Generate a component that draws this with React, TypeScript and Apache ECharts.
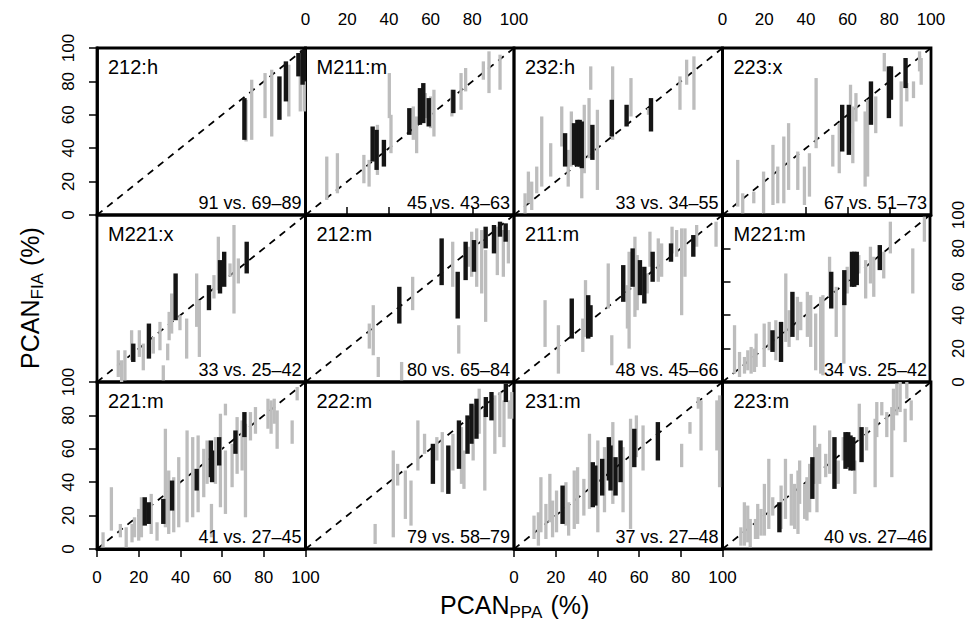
import React, { useEffect, useRef } from 'react';
import * as echarts from 'echarts';

const FONT = '"Liberation Sans", Arial, Helvetica, sans-serif';

// Panel identifiers and the comparison notes in the lower-right corners
const panelNames = ['212:h', 'M211:m', '232:h', '223:x', 'M221:x', '212:m', '211:m', 'M221:m', '221:m', '222:m', '231:m', '223:m'];
const panelNotes = ['91 vs. 69–89', '45 vs. 43–63', '33 vs. 34–55', '67 vs. 51–73', '33 vs. 25–42', '80 vs. 65–84', '48 vs. 45–66', '34 vs. 25–42', '41 vs. 27–45', '79 vs. 58–79', '37 vs. 27–48', '40 vs. 27–46'];

// 1:1 reference line
const diagonal = [[0, 0], [100, 100]];

// Each segment: [PCAN_PPA, PCAN_FIA low, PCAN_FIA high]
const gray212h = [[71.5, 44, 69], [74.2, 45, 81], [80.6, 58, 85], [83.8, 47, 87], [92, 59, 90], [97.5, 62, 93], [99.4, 62, 95]];
const black212h = [[70.7, 45, 70], [87.5, 57, 83], [90.6, 68, 92], [96.6, 83, 97], [98.6, 78, 99], [99.5, 80, 99]];

const grayM211m = [[10.2, 9, 35], [15.3, 13, 37], [28, 19, 36], [30.5, 17, 33], [34.5, 24, 54], [40.2, 58, 85], [41, 37, 60], [51.7, 45, 65], [53.3, 37, 59], [57.5, 58, 73], [60, 52, 71], [61.6, 47, 75], [70.2, 59, 75], [74.6, 63, 85], [76.8, 74, 88], [85.3, 81, 92], [88, 73, 98], [93.3, 75, 96]];
const blackM211m = [[32.2, 32, 53], [34.1, 27, 51], [37.6, 29, 45], [49.8, 48, 64], [54.9, 54, 76], [56.5, 55, 79], [59.1, 53, 70], [70.9, 61, 75]];

const gray232h = [[5.3, 1, 13], [6.9, 7, 26], [8.5, 3, 20], [10.9, 13, 29], [13.3, 17, 59], [17.6, 23, 43], [22.9, 41, 65], [26, 17, 39], [27.5, 29, 62], [32.5, 10, 28], [33.7, 25, 66], [36, 34, 70], [36.8, 75, 89], [40, 15, 63], [47.3, 45, 89], [56.1, 59, 82], [64.5, 60, 64], [79.6, 63, 83], [82.8, 78, 93], [86.3, 63, 95]];
const black232h = [[24.5, 29, 49], [28.8, 30, 55], [30.4, 29, 57], [31.5, 29, 57], [32.5, 28, 56], [37.6, 33, 54], [46.9, 47, 69], [54, 53, 66], [65.7, 50, 70]];

const gray223x = [[7.3, 5, 33], [9.7, 1, 13], [15, 7, 14], [19.7, 1, 26], [24.2, 6, 42], [26.5, 7, 29], [29.4, 7, 47], [31.7, 15, 55], [36.1, 15, 38], [39.3, 6, 29], [41.7, 11, 37], [44.9, 40, 82], [52.9, 29, 48], [56, 25, 55], [61.4, 49, 78], [62.5, 31, 65], [64, 56, 73], [68.4, 17, 62], [69.6, 23, 69], [73.5, 49, 71], [77.6, 86, 97], [85.7, 53, 80], [88.4, 68, 79], [91.6, 70, 80], [94.5, 86, 98], [95.3, 78, 94]];
const black223x = [[57.4, 38, 66], [60.6, 36, 66], [71.2, 54, 80], [79.8, 58, 89], [80.8, 69, 89], [87.8, 76, 94]];

const grayM221x = [[10.2, 3, 19], [11.8, 0, 13], [13.4, 1, 19], [16.6, 13, 31], [20.3, 15, 31], [22.2, 7, 23], [27, 17, 27], [30.2, 19, 36], [31.8, 1, 10], [33.9, 13, 23], [34.6, 25, 42], [35.8, 29, 53], [39.8, 31, 40], [43, 14, 38], [47.8, 33, 65], [49.1, 15, 49], [56.1, 50, 64], [58.2, 55, 87], [63.8, 63, 71], [65.7, 41, 94], [67.8, 59, 74]];
const blackM221x = [[17.4, 12, 23], [24.9, 14, 35], [37.7, 37, 65], [53.7, 43, 58], [59, 53, 73], [61, 57, 78], [71.8, 65, 84]];

const gray212m = [[30.6, 20, 35], [32.5, 16, 46], [34.9, 3, 15], [46.1, 1, 12], [51.4, 43, 63], [70.6, 57, 84], [73.5, 17, 34], [78.1, 69, 81], [79.7, 63, 90], [82.1, 57, 92], [84.5, 53, 91], [86.4, 36, 79], [92, 64, 93], [94.9, 63, 91], [97.3, 71, 91]];
const black212m = [[45, 35, 57], [65.3, 58, 86], [73, 38, 66], [76.8, 61, 84], [80.8, 66, 85], [86.4, 80, 93], [90.4, 77, 94], [93.3, 87, 96], [96, 84, 95]];

const gray211m = [[14.9, 21, 49], [21.3, 5, 34], [33, 18, 38], [34.3, 27, 61], [45.2, 44, 71], [46.9, 10, 28], [54.4, 32, 58], [55.2, 20, 78], [58, 39, 87], [59.1, 43, 76], [63.9, 53, 65], [65.2, 69, 90], [69.2, 60, 86], [70.8, 63, 83], [75.8, 77, 93], [78, 75, 91], [80.4, 40, 92], [82, 63, 92], [87.6, 81, 94], [96.9, 81, 96]];
const black211m = [[27.7, 26, 50], [35.6, 26, 52], [36.7, 27, 46], [52.4, 48, 70], [56.9, 57, 80], [60.4, 52, 73], [62.5, 47, 69], [66.5, 60, 78], [75.3, 72, 83], [86, 75, 88]];

const grayM221m = [[5.8, 5, 34], [8.2, 3, 18], [10.6, 5, 15], [12.2, 7, 19], [13.8, 5, 21], [15.4, 6, 20], [16.2, 9, 29], [20.1, 9, 35], [22.5, 19, 36], [25.7, 13, 37], [30.5, 24, 65], [32.1, 21, 43], [36.1, 25, 51], [37.7, 31, 48], [40.9, 27, 54], [42.5, 21, 52], [44.9, 7, 41], [47.3, 5, 51], [48.4, 4, 52], [51.6, 51, 75], [54.8, 27, 57], [58.5, 11, 49], [60.1, 53, 69], [65.7, 65, 76], [69, 50, 73], [71.3, 59, 81], [72.9, 51, 75], [77.7, 62, 78], [80.9, 77, 96], [91.7, 53, 80], [97.3, 84, 99]];
const blackM221m = [[24.1, 18, 31], [28.2, 12, 36], [33.7, 27, 54], [52.4, 44, 66], [58.7, 46, 67], [62.4, 57, 78], [63.5, 57, 78], [64.7, 58, 78], [75.8, 67, 82]];

const gray221m = [[2.9, 1, 10], [6.9, 11, 37], [11.2, 7, 15], [14, 1, 13], [16.8, 4, 15], [18, 7, 19], [20, 5, 24], [21.3, 7, 31], [26, 9, 33], [28.8, 5, 16], [32.8, 13, 72], [34.4, 9, 47], [36.8, 10, 43], [39.2, 13, 55], [43.2, 16, 71], [45.9, 19, 67], [48.5, 22, 68], [51.2, 31, 60], [52.8, 39, 65], [54.9, 7, 27], [56.8, 39, 67], [59.2, 25, 81], [61.6, 80, 87], [61.6, 21, 59], [64.8, 37, 63], [67.2, 45, 79], [69.6, 47, 77], [71.2, 19, 75], [73.6, 65, 82], [76, 69, 85], [82, 72, 90], [83.5, 69, 89], [85, 75, 90], [86.4, 60, 83], [93.6, 63, 77], [96, 89, 97]];
const black221m = [[22.9, 14, 31], [24.8, 15, 28], [31.8, 15, 30], [36, 23, 41], [47.8, 35, 48], [54.6, 43, 65], [55.2, 40, 59], [58.6, 50, 67], [66.4, 57, 71], [70.7, 67, 82]];

const gray222m = [[33.4, 3, 15], [42.1, 7, 59], [44.2, 38, 51], [47.9, 18, 47], [50.6, 14, 41], [53.9, 47, 77], [57.1, 57, 69], [63, 53, 67], [65.6, 34, 70], [70.7, 47, 69], [74.8, 39, 73], [76, 36, 59], [80.4, 53, 86], [83.3, 69, 96], [86, 35, 84], [90.8, 57, 92], [93.2, 67, 94], [95.2, 61, 89], [97.7, 78, 89], [98.9, 78, 94]];
const black222m = [[61.1, 39, 63], [68.5, 33, 62], [73.6, 48, 77], [77.7, 57, 80], [79.6, 63, 87], [82, 66, 90], [86.5, 79, 91], [89.2, 77, 94], [96.1, 88, 99]];

const gray231m = [[9.6, 6, 20], [11.7, 2, 22], [12.9, 10, 43], [15.3, 6, 27], [17.2, 16, 45], [18.5, 7, 29], [20.4, 10, 35], [24.9, 14, 40], [26.2, 8, 28], [28.9, 12, 47], [30.5, 15, 49], [33.5, 20, 42], [36.2, 24, 69], [40.2, 10, 65], [43.4, 22, 61], [47.4, 27, 76], [52.3, 22, 61], [55.9, 12, 78], [58.7, 55, 80], [61.9, 47, 74], [80.4, 49, 63], [84.4, 69, 76], [88.4, 84, 91], [89.7, 59, 89], [97.3, 59, 89], [98.6, 37, 92]];
const black231m = [[23.3, 15, 38], [37.8, 25, 52], [39, 26, 50], [42.3, 32, 54], [45.5, 41, 67], [46.3, 35, 62], [48.7, 32, 55], [51.1, 40, 65], [57.7, 49, 72], [69, 53, 76]];

const gray223m = [[8.8, 2, 13], [10.5, 2, 28], [12.1, 4, 26], [13.3, 1, 18], [15.8, 6, 18], [16.9, 6, 27], [18.5, 8, 24], [20.1, 8, 39], [22.2, 12, 54], [24.1, 20, 31], [28.1, 12, 38], [30.2, 18, 54], [33, 14, 45], [34.6, 12, 39], [36.2, 9, 47], [37, 27, 53], [39.4, 18, 39], [40.5, 17, 43], [41.8, 22, 51], [44.2, 39, 74], [45.3, 22, 61], [46.6, 39, 63], [49.5, 43, 57], [51.4, 45, 71], [55.5, 39, 53], [57.9, 53, 67], [63.5, 33, 53], [65.6, 65, 87], [69.1, 59, 73], [73.2, 37, 78], [74, 67, 88], [76.4, 80, 88], [78.8, 67, 82], [81.2, 43, 85], [82, 71, 96], [83.6, 80, 99], [85.2, 82, 100], [87.6, 64, 84], [88.4, 90, 100], [90.5, 77, 89]];
const black223m = [[27.3, 10, 28], [43.1, 30, 55], [53.7, 36, 67], [59, 48, 70], [60.3, 49, 70], [61.4, 47, 68], [62.7, 47, 67], [66.7, 52, 73]];

const grayData = [gray212h, grayM211m, gray232h, gray223x, grayM221x, gray212m, gray211m, grayM221m, gray221m, gray222m, gray231m, gray223m];
const blackData = [black212h, blackM211m, black232h, black223x, blackM221x, black212m, black211m, blackM221m, black221m, black222m, black231m, black223m];

// layout
const LEFT0 = 97;
const TOP0 = 48;
const CW = 208.5;
const RH = 167;

function segRender(color: string, width: number) {
  return (params: any, api: any) => {
    const x = api.value(0);
    const lo = api.value(1);
    const hi = api.value(2);
    const p1 = api.coord([x, lo]);
    const p2 = api.coord([x, hi]);
    return {
      type: 'line',
      shape: { x1: p1[0], y1: p1[1], x2: p2[0], y2: p2[1] },
      style: { stroke: color, lineWidth: width, lineCap: 'butt' },
    };
  };
}

function buildOption() {
  const grids: any[] = [];
  const xAxes: any[] = [];
  const yAxes: any[] = [];
  const series: any[] = [];
  const graphics: any[] = [];

  for (let i = 0; i < 12; i++) {
    const r = Math.floor(i / 4);
    const c = i % 4;
    const left = LEFT0 + CW * c;
    const top = TOP0 + RH * r;
    grids.push({ left, top, width: CW, height: RH, show: true, borderColor: '#000', borderWidth: 2.8, backgroundColor: 'transparent' });

    const showTopX = r === 0 && (c === 1 || c === 3);
    const showBottomX = r === 2 && (c === 0 || c === 2);
    const showLeftY = c === 0 && (r === 0 || r === 2);
    const showRightY = c === 3 && r === 1;

    const common = {
      type: 'value', min: 0, max: 100, interval: 20,
      axisLine: { show: true, lineStyle: { color: '#000', width: 2.8 } },
      axisTick: { show: true, length: 8, lineStyle: { color: '#000', width: 1.5 } },
      splitLine: { show: false },
    };
    xAxes.push({
      ...common,
      gridIndex: i,
      show: showTopX || showBottomX,
      position: showTopX ? 'top' : 'bottom',
      axisLabel: { show: true, margin: 20, fontSize: 17, color: '#000', fontFamily: FONT, showMinLabel: true, showMaxLabel: true },
    });
    yAxes.push({
      ...common,
      gridIndex: i,
      show: showLeftY || showRightY,
      position: showRightY ? 'right' : 'left',
      axisLabel: { show: true, rotate: 90, margin: 20, fontSize: 17, color: '#000', fontFamily: FONT, showMinLabel: true, showMaxLabel: true },
    });

    series.push({
      type: 'line', xAxisIndex: i, yAxisIndex: i, data: diagonal, symbol: 'none', silent: true, z: 1,
      lineStyle: { color: '#000', width: 1.8, type: [7, 6] },
    });
    series.push({
      type: 'custom', xAxisIndex: i, yAxisIndex: i, data: grayData[i], clip: true, silent: true, z: 2,
      encode: { x: 0, y: [1, 2] },
      renderItem: segRender('#bdbdbd', 3.3),
    });
    series.push({
      type: 'custom', xAxisIndex: i, yAxisIndex: i, data: blackData[i], clip: true, silent: true, z: 3,
      encode: { x: 0, y: [1, 2] },
      renderItem: segRender('#151515', 4.4),
    });

    graphics.push({
      type: 'text', x: left + 11, y: top + 19, z: 10,
      style: { text: panelNames[i], fill: '#000', fontSize: 20, fontFamily: FONT, textAlign: 'left', textVerticalAlign: 'middle' },
    });
    graphics.push({
      type: 'text', x: left + CW - 4, y: top + RH - 12, z: 10,
      style: { text: panelNotes[i], fill: '#000', fontSize: 18, fontFamily: FONT, textAlign: 'right', textVerticalAlign: 'middle' },
    });
  }

  // axis titles
  const bigW = 69.5;
  graphics.push({
    type: 'group', x: 440, y: 605,
    children: [
      { type: 'text', x: 0, y: 0, style: { text: 'PCAN', fill: '#000', fontSize: 25, fontFamily: FONT, textAlign: 'left', textVerticalAlign: 'middle' } },
      { type: 'text', x: bigW, y: 7, style: { text: 'PPA', fill: '#000', fontSize: 17, fontFamily: FONT, textAlign: 'left', textVerticalAlign: 'middle' } },
      { type: 'text', x: bigW + 34, y: 0, style: { text: ' (%)', fill: '#000', fontSize: 25, fontFamily: FONT, textAlign: 'left', textVerticalAlign: 'middle' } },
    ],
  });
  graphics.push({
    type: 'group', x: 30, y: 369, rotation: Math.PI / 2,
    children: [
      { type: 'text', x: 0, y: 0, style: { text: 'PCAN', fill: '#000', fontSize: 25, fontFamily: FONT, textAlign: 'left', textVerticalAlign: 'middle' } },
      { type: 'text', x: bigW, y: 7, style: { text: 'FIA', fill: '#000', fontSize: 17, fontFamily: FONT, textAlign: 'left', textVerticalAlign: 'middle' } },
      { type: 'text', x: bigW + 26.5, y: 0, style: { text: ' (%)', fill: '#000', fontSize: 25, fontFamily: FONT, textAlign: 'left', textVerticalAlign: 'middle' } },
    ],
  });

  return {
    animation: false,
    backgroundColor: '#fff',
    textStyle: { fontFamily: FONT },
    grid: grids,
    xAxis: xAxes,
    yAxis: yAxes,
    series,
    graphic: graphics,
  };
}

export default function App() {
  const ref = useRef<HTMLDivElement>(null);
  useEffect(() => {
    if (!ref.current) return;
    const chart = echarts.init(ref.current, undefined, { renderer: 'svg' });
    chart.setOption(buildOption() as any);
    return () => chart.dispose();
  }, []);
  return <div ref={ref} style={{ position: 'absolute', left: 0, top: 0, width: 967, height: 624, background: '#fff' }} />;
}
